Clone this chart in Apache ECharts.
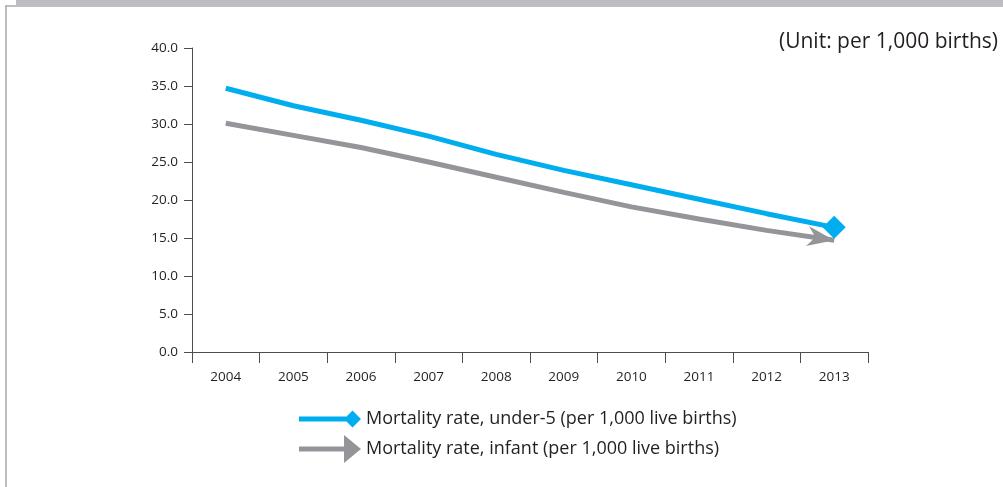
<!DOCTYPE html>
<html>
<head>
<meta charset="utf-8">
<script src="https://cdn.jsdelivr.net/npm/echarts@6/dist/echarts.min.js"></script>
<style>
  html, body { margin: 0; padding: 0; background: #ffffff; }
  #chart { width: 1003px; height: 487px; }
</style>
</head>
<body>
<div id="chart"></div>
<script>
// Years on the horizontal axis
const years = ['2004', '2005', '2006', '2007', '2008', '2009', '2010', '2011', '2012', '2013'];
// Mortality rates per 1,000 live births
const under5 = [34.7, 32.4, 30.5, 28.4, 26.0, 23.9, 22.0, 20.1, 18.2, 16.4];
const infant = [30.1, 28.5, 26.9, 25.0, 23.0, 21.0, 19.1, 17.5, 16.0, 14.7];
const seriesNames = [
  'Mortality rate, under-5 (per 1,000 live births)',
  'Mortality rate, infant (per 1,000 live births)'
];
const unitText = '(Unit: per 1,000 births)';

const BLUE = '#00aeef';
const GREY = '#939598';
const FONT = 'Open Sans';

// Arrow head pointing right, tip at the right edge of its box
const arrowHead = 'path://M0,0 L27,10 L0,20 L8,10 Z';
const arrowTilt = -9;                       // degrees, follows the last segment
const rad = arrowTilt * Math.PI / 180;
const tipX = 13.5 * Math.cos(rad), tipY = -13.5 * Math.sin(rad);

// Legend glyphs: a short bar ending in the series' marker
const legendDiamond = 'path://M0,12.5 L47,12.5 L47,17.5 L0,17.5 Z M45,15 L53.5,6.5 L62,15 L53.5,23.5 Z';
const legendArrow = 'path://M0,12.5 L46,12.5 L46,17.5 L0,17.5 Z M45,1 L62,15 L45,29 Z';

function lastMarked(values, marker) {
  return values.map((v, i) => i === values.length - 1 ? Object.assign({ value: v }, marker) : v);
}

const chart = echarts.init(document.getElementById('chart'), null, { renderer: 'canvas' });

chart.setOption({
  animation: false,
  textStyle: { fontFamily: FONT },
  title: {
    text: unitText,
    right: 0,
    top: 27,
    textStyle: { fontFamily: FONT, fontSize: 21, fontWeight: 'normal', color: '#231f20' }
  },
  grid: { left: 192, right: 135, top: 48, bottom: 135, containLabel: false },
  xAxis: {
    type: 'category',
    data: years,
    boundaryGap: true,
    axisLine: { lineStyle: { color: '#4d4d4f', width: 1 } },
    axisTick: { show: true, length: 11, lineStyle: { color: '#4d4d4f' } },
    axisLabel: { margin: 18, fontSize: 13.5, color: '#231f20', fontFamily: FONT },
    splitLine: { show: false }
  },
  yAxis: {
    type: 'value',
    min: 0,
    max: 40,
    interval: 5,
    axisLine: { show: true, lineStyle: { color: '#4d4d4f', width: 1 } },
    axisTick: { show: true, length: 8, lineStyle: { color: '#4d4d4f' } },
    axisLabel: {
      margin: 14, fontSize: 13.5, color: '#231f20', fontFamily: FONT,
      formatter: v => v.toFixed(1)
    },
    splitLine: { show: false }
  },
  legend: {
    orient: 'vertical',
    left: 299,
    top: 404,
    padding: 0,
    itemWidth: 62,
    itemHeight: 30,
    itemGap: 0,
    symbolKeepAspect: true,
    textStyle: { fontFamily: FONT, fontSize: 18, lineHeight: 30, color: '#231f20', padding: [0, 0, 0, 0] },
    data: [
      { name: seriesNames[0], icon: legendDiamond },
      { name: seriesNames[1], icon: legendArrow }
    ]
  },
  series: [
    {
      name: seriesNames[1],
      type: 'line',
      data: lastMarked(infant, {
        symbol: arrowHead,
        symbolSize: [27, 20],
        symbolRotate: arrowTilt,
        symbolOffset: [-tipX, -tipY]
      }),
      symbol: 'none',
      color: GREY,
      lineStyle: { color: GREY, width: 5, cap: 'butt' },
      itemStyle: { color: GREY, borderWidth: 0 },
      z: 2
    },
    {
      name: seriesNames[0],
      type: 'line',
      data: lastMarked(under5, { symbol: 'diamond', symbolSize: 23 }),
      symbol: 'none',
      color: BLUE,
      lineStyle: { color: BLUE, width: 5, cap: 'butt' },
      itemStyle: { color: BLUE, borderWidth: 0 },
      z: 3
    }
  ],
  graphic: [
    // Page frame: grey band along the top, rule below it and down the left side
    { type: 'rect', shape: { x: 16, y: 0, width: 987, height: 5 }, style: { fill: '#bbbdc0' }, silent: true },
    { type: 'line', shape: { x1: 5, y1: 6, x2: 1003, y2: 6 }, style: { stroke: '#a7a9ac', lineWidth: 1.5 }, silent: true },
    { type: 'line', shape: { x1: 6, y1: 6, x2: 6, y2: 487 }, style: { stroke: '#a7a9ac', lineWidth: 1.5 }, silent: true }
  ]
});
</script>
</body>
</html>
